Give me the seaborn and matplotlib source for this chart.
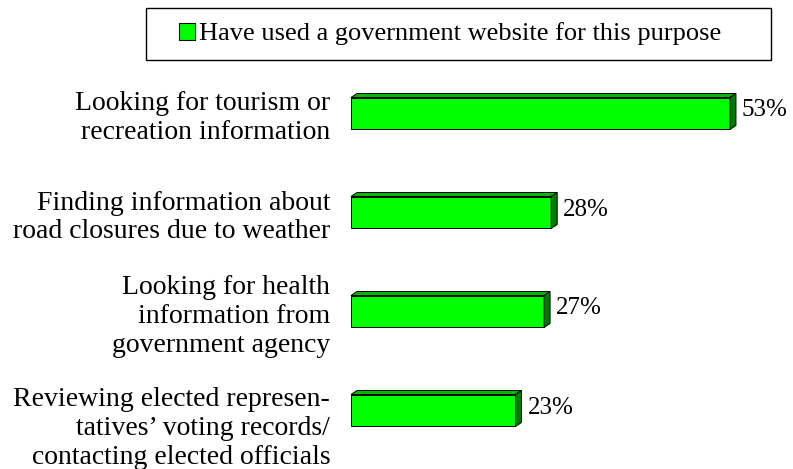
"""Horizontal 3D-style bar chart: government website use by purpose."""

import matplotlib
matplotlib.use("Agg")
import matplotlib.pyplot as plt
import matplotlib.transforms as mtransforms
from matplotlib.patches import Polygon, Rectangle, Patch
import seaborn as sns

categories = [
    "Looking for tourism or\nrecreation information",
    "Finding information about\nroad closures due to weather",
    "Looking for health\ninformation from\ngovernment agency",
    "Reviewing elected represen-\ntatives\u2019 voting records/\ncontacting elected officials",
]
values = [53, 28, 27, 23]
value_labels = ["53%", "28%", "27%", "23%"]
legend_label = "Have used a government website for this purpose"

FRONT = "#00FF00"
TOP = "#00B800"
SIDE = "#007A00"

sns.set_style("white")
plt.rcParams["font.family"] = ["Liberation Serif", "DejaVu Serif"]
plt.rcParams["text.color"] = "black"
plt.rcParams["ytick.labelcolor"] = "black"
plt.rcParams["ytick.color"] = "black"

W, H = 793, 469
fig = plt.figure(figsize=(W / 100, H / 100), dpi=100)
ax = fig.add_axes([351 / W, 9 / H, 429 / W, 396 / H])

sns.barplot(x=values, y=categories, orient="h", color=FRONT, saturation=1,
            width=0.323, edgecolor="black", linewidth=0.7, ax=ax)
ax.set_xlim(0, 60)
ax.set_ylim(3.5, -0.5)
ax.set_xlabel("")
ax.set_ylabel("")
ax.set_xticks([])
sns.despine(ax=ax, left=True, bottom=True)
ax.tick_params(axis="y", length=0, pad=15, labelcolor="black")
for lbl in ax.get_yticklabels():
    lbl.set_fontsize(20)
    lbl.set_color("black")
    lbl.set_horizontalalignment("right")
    lbl.set_multialignment("right")
    lbl.set_linespacing(1.2)
# last label sits a little lower in the original
last = ax.get_yticklabels()[-1]
last.set_transform(last.get_transform()
                   + mtransforms.ScaledTranslation(0, -13 / 100, fig.dpi_scale_trans))

# 3D top and side faces, built in pixel space from the seaborn bars
dx, dy = 6, 4
ident = mtransforms.IdentityTransform()
for bar in list(ax.patches):
    x0, y0 = bar.get_x(), bar.get_y()
    x1, y1 = x0 + bar.get_width(), y0 + bar.get_height()
    (px0, pyb), (px1, pyt) = ax.transData.transform([(x0, y1), (x1, y0)])
    top = Polygon([(px0, pyt), (px1, pyt), (px1 + dx, pyt + dy), (px0 + dx, pyt + dy)],
                  closed=True, facecolor=TOP, edgecolor="black", linewidth=0.7,
                  transform=ident, clip_on=False)
    side = Polygon([(px1, pyt), (px1, pyb), (px1 + dx, pyb + dy), (px1 + dx, pyt + dy)],
                   closed=True, facecolor=SIDE, edgecolor="black", linewidth=0.7,
                   transform=ident, clip_on=False)
    fig.add_artist(top)
    fig.add_artist(side)

for i, (v, txt) in enumerate(zip(values, value_labels)):
    ax.annotate(txt, xy=(v, i), xytext=(12 * 0.72, 3 * 0.72),
                textcoords="offset points", ha="left", va="center",
                fontsize=18, color="black", annotation_clip=False)

# legend with a plain rectangular frame
handle = Patch(facecolor=FRONT, edgecolor="black", linewidth=0.8)
leg = fig.legend([handle], [legend_label], loc="center left",
                 bbox_to_anchor=(179 / W, 1 - 34 / H), frameon=False, fontsize=19,
                 handlelength=0.62, handleheight=0.6, handletextpad=0.15,
                 borderpad=0, borderaxespad=0, labelcolor="black")
fig.add_artist(Rectangle((146 / W, 1 - 60 / H), (771 - 146) / W, 52 / H,
                         transform=fig.transFigure, fill=False,
                         edgecolor="black", linewidth=1.0))

fig.savefig("out.png", dpi=100)
